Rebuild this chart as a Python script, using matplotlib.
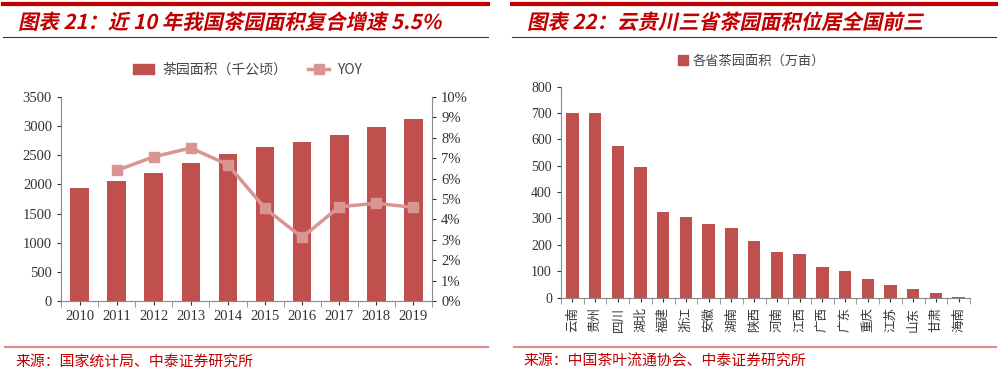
import matplotlib
matplotlib.use('Agg')
import matplotlib.pyplot as plt
import numpy as np
from matplotlib.lines import Line2D
from matplotlib.patches import Patch, PathPatch
from matplotlib.textpath import TextPath
from matplotlib.font_manager import FontProperties
from matplotlib.transforms import Affine2D

plt.rcParams['font.family'] = ['Liberation Serif', 'Noto Sans CJK SC']

# chart 21 data
years = ['2010', '2011', '2012', '2013', '2014', '2015', '2016', '2017', '2018', '2019']
area = [1934, 2059, 2202, 2368, 2528, 2642, 2723, 2848, 2980, 3117]
yoy = [None, 6.4, 7.07, 7.5, 6.68, 4.54, 3.12, 4.62, 4.79, 4.59]

# chart 22 data
provinces = ['云南', '贵州', '四川', '湖北', '福建', '浙江', '安徽', '湖南', '陕西',
             '河南', '江西', '广西', '广东', '重庆', '江苏', '山东', '甘肃', '海南']
prov_area = [699, 698, 574, 495, 326, 305, 279, 265, 215,
             173, 164, 115, 100, 70, 49, 34, 19, 3]

BAR = '#C0504D'
LINE = '#D99594'
RED = '#C00000'
GREY = '#888888'
CJK = ['Noto Sans CJK SC', 'DejaVu Sans']
DPI = 100

fig = plt.figure(figsize=(10, 3.73), dpi=DPI)


def style_axis(ax):
    for s in ax.spines.values():
        s.set_color(GREY)
    ax.spines['top'].set_visible(False)
    ax.tick_params(colors='#333333', length=3, width=0.8)


def slanted_title(px, py, text, size):
    '''bold text with a fake italic slant, placed in pixels from top-left'''
    fp = FontProperties(family='Noto Sans CJK SC', weight='bold')
    tp = TextPath((0, 0), text, size=size, prop=fp)
    s = DPI / 72.0
    tr = (Affine2D().skew_deg(12, 0).scale(s)
          .translate(px, fig.bbox.height - py))
    fig.add_artist(PathPatch(tp, transform=tr, color=RED, lw=0))


# ---- left chart
ax1 = fig.add_axes([0.061, 0.193, 0.371, 0.547])
x = np.arange(len(years))
ax1.bar(x, area, width=0.5, color=BAR, zorder=2)
ax1.set_ylim(0, 3500)
ax1.set_yticks(range(0, 3501, 500))
ax1.set_xlim(-0.5, len(years) - 0.5)
ax1.set_xticks(x)
ax1.set_xticklabels(years)
ax1.set_xticks(np.arange(-0.5, len(years), 1), minor=True)
ax1.tick_params(axis='x', which='major', length=0)
ax1.tick_params(axis='x', which='minor', length=4, color=GREY)
ax1.tick_params(labelsize=10.5, colors='#333333')
style_axis(ax1)
ax1.spines['right'].set_visible(False)

ax2 = ax1.twinx()
yx = [i for i, v in enumerate(yoy) if v is not None]
yv = [v for v in yoy if v is not None]
ax2.plot(yx, yv, color=LINE, lw=2.5, marker='s', ms=7.5, mfc=LINE, mec=LINE, zorder=3)
ax2.set_ylim(0, 10)
ax2.set_yticks(range(0, 11))
ax2.set_yticklabels([f'{i}%' for i in range(0, 11)])
ax2.tick_params(labelsize=10.5, colors='#333333')
style_axis(ax2)
ax2.spines['left'].set_visible(False)
ax2.spines['bottom'].set_visible(False)

h1 = Patch(color=BAR)
h2 = Line2D([], [], color=LINE, lw=2.5, marker='s', ms=7)
fig.legend([h1, h2], ['茶园面积（千公顷）', 'YOY'], loc='center', bbox_to_anchor=(0.248, 0.812),
           ncol=2, frameon=False, prop={'family': CJK, 'size': 10}, handlelength=1.5,
           handletextpad=0.6, columnspacing=1.5, labelcolor='#444444')

# ---- right chart
ax3 = fig.add_axes([0.561, 0.202, 0.409, 0.566])
xp = np.arange(len(provinces))
ax3.bar(xp, prov_area, width=0.55, color=BAR, zorder=2)
ax3.set_ylim(0, 800)
ax3.set_yticks(range(0, 801, 100))
ax3.set_xlim(-0.5, len(provinces) - 0.5)
ax3.set_xticks(xp)
ax3.set_xticklabels(provinces, rotation=90, family=CJK, fontsize=9, color='#444444')
ax3.set_xticks(np.arange(-0.5, len(provinces), 1), minor=True)
ax3.tick_params(axis='x', which='major', length=0)
ax3.tick_params(axis='x', which='minor', length=4, color=GREY)
ax3.tick_params(axis='y', labelsize=10)
style_axis(ax3)
ax3.spines['right'].set_visible(False)

fig.legend([Patch(color=BAR)], ['各省茶园面积（万亩）'], loc='center', bbox_to_anchor=(0.752, 0.836),
           frameon=False, prop={'family': CJK, 'size': 9.5}, handlelength=0.7, handleheight=0.7,
           handletextpad=0.4, labelcolor='#444444')

# ---- headers and footers
for x0, x1, title, src in [(0.003, 0.488, '图表 21：近 10 年我国茶园面积复合增速 5.5%', '来源：国家统计局、中泰证券研究所'),
                           (0.512, 0.996, '图表 22：云贵川三省茶园面积位居全国前三', '来源：中国茶叶流通协会、中泰证券研究所')]:
    fig.add_artist(Line2D([x0, x1], [0.988, 0.988], color=RED, lw=3))
    fig.add_artist(Line2D([x0, x1], [0.901, 0.901], color=RED, lw=0.8))
    fig.add_artist(Line2D([x0 + 0.002, x1], [0.070, 0.070], color='#E08A8A', lw=1.5))
    slanted_title(x0 * 1000 + 15, 29, title, 14.7)
    fig.text(x0 + 0.012, 0.030, src, color=RED, fontsize=10.7, family=CJK, va='center', ha='left')

fig.savefig('out.png', dpi=DPI)
